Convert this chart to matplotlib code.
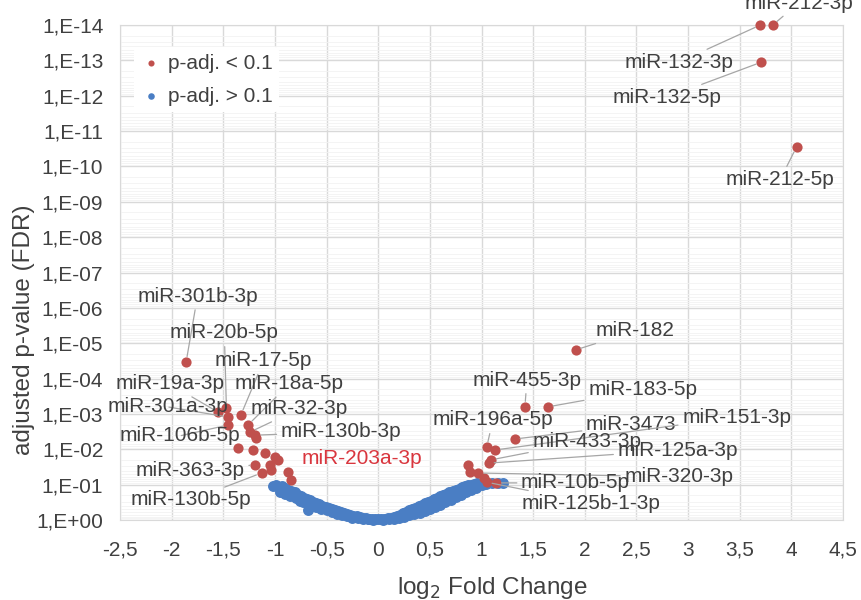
import numpy as np
import matplotlib
matplotlib.use("Agg")
from matplotlib import pyplot as plt
from matplotlib.ticker import FixedLocator, FuncFormatter, LogLocator

plt.rcParams['font.family'] = ['Liberation Sans', 'DejaVu Sans']

# significant miRNAs (p-adj < 0.1): log2 fold change and -log10(p-adj)
red_names = ['miR-132-3p', 'miR-212-3p', 'miR-132-5p', 'miR-212-5p', 'miR-182',
             'miR-455-3p', 'miR-183-5p', 'miR-3473', 'miR-196a-5p', 'miR-151-3p',
             'miR-433-3p', 'miR-125a-3p', '', '', 'miR-320-3p', '', 'miR-125b-1-3p',
             'miR-10b-5p',
             'miR-301b-3p', 'miR-19a-3p', 'miR-20b-5p', 'miR-301a-3p', 'miR-17-5p',
             'miR-106b-5p', 'miR-18a-5p', 'miR-32-3p', 'miR-130b-3p', '', '', '', '',
             '', '', 'miR-363-3p', '', 'miR-130b-5p', '', '', 'miR-203a-3p']
red_lfc = [3.70, 3.82, 3.71, 4.05, 1.91,
           1.42, 1.64, 1.32, 1.05, 1.13,
           1.09, 1.07, 0.87, 0.89, 0.97, 1.02, 1.05,
           1.14,
           -1.86, -1.55, -1.47, -1.45, -1.33,
           -1.45, -1.26, -1.24, -1.19, -1.18, -1.36, -1.21, -1.10,
           -1.00, -0.97, -1.19, -1.05, -1.13, -1.04, -0.87, -0.84]
red_nlp = [14.0, 14.0, 12.95, 10.55, 4.81,
           3.20, 3.20, 2.29, 2.06, 1.98,
           1.70, 1.61, 1.56, 1.36, 1.33, 1.19, 1.07,
           1.05,
           4.47, 3.05, 3.17, 2.91, 2.97,
           2.69, 2.69, 2.49, 2.40, 2.32, 2.04, 1.98, 1.89,
           1.78, 1.70, 1.56, 1.56, 1.33, 1.41, 1.36, 1.13]

# non-significant miRNAs (p-adj > 0.1)
blue_lfc = [-1.02, -0.99, -0.96, -0.93, -0.90, -0.87, -0.84, -0.81, -0.78, -0.75,
            -0.72, -0.69, -0.66, -0.63, -0.60, -0.57, -0.54, -0.51, -0.48, -0.45,
            -0.42, -0.39, -0.36, -0.33, -0.30, -0.27, -0.24, -0.21, -0.18, -0.15,
            -0.12, -0.09, -0.06, -0.03, 0.00,
            -0.95, -0.90, -0.85, -0.80, -0.76, -0.73, -0.68, -0.68, -0.64, -0.60,
            -0.55, -0.50, -0.45, -0.40, -0.35, -0.30, -0.25, -0.20, -0.15, -0.10,
            -0.05,
            0.03, 0.06, 0.09, 0.12, 0.15, 0.18, 0.21, 0.24, 0.27, 0.30,
            0.33, 0.36, 0.39, 0.42, 0.45, 0.48, 0.51, 0.54, 0.57, 0.60,
            0.63, 0.66, 0.69, 0.72, 0.75, 0.78, 0.81, 0.84, 0.87, 0.90,
            0.93, 0.96, 1.00, 1.04, 1.10, 1.16, 1.21,
            0.05, 0.10, 0.15, 0.20, 0.25, 0.30, 0.35, 0.40, 0.45, 0.50,
            0.55, 0.60, 0.65, 0.70, 0.75, 0.80, 0.85, 0.90, 0.95]
blue_nlp = [0.95, 1.00, 0.93, 0.97, 0.90, 0.86, 0.82, 0.78, 0.72, 0.68,
            0.63, 0.60, 0.56, 0.52, 0.48, 0.45, 0.41, 0.38, 0.35, 0.32,
            0.29, 0.26, 0.23, 0.20, 0.17, 0.15, 0.12, 0.10, 0.08, 0.06,
            0.05, 0.04, 0.03, 0.02, 0.02,
            0.80, 0.74, 0.68, 0.62, 0.55, 0.51, 0.28, 0.45, 0.40, 0.36,
            0.32, 0.27, 0.22, 0.18, 0.14, 0.10, 0.07, 0.05, 0.03, 0.02,
            0.01,
            0.03, 0.04, 0.05, 0.07, 0.09, 0.12, 0.15, 0.19, 0.23, 0.27,
            0.31, 0.35, 0.39, 0.43, 0.47, 0.51, 0.55, 0.59, 0.63, 0.67,
            0.71, 0.75, 0.79, 0.82, 0.86, 0.89, 0.92, 0.95, 0.98, 1.00,
            1.02, 1.04, 1.00, 1.03, 1.04, 1.05, 1.05,
            0.01, 0.02, 0.04, 0.06, 0.09, 0.13, 0.17, 0.21, 0.26, 0.31,
            0.37, 0.43, 0.50, 0.57, 0.64, 0.71, 0.78, 0.85, 0.90]

# where each label text sits (log2FC, -log10 p)
label_pos = {
    'miR-212-3p': (4.07, 14.62), 'miR-132-3p': (2.91, 12.95),
    'miR-132-5p': (2.80, 11.96), 'miR-212-5p': (3.89, 9.62),
    'miR-182': (2.49, 5.35), 'miR-455-3p': (1.44, 3.96),
    'miR-183-5p': (2.56, 3.68), 'miR-196a-5p': (1.11, 2.83),
    'miR-3473': (2.45, 2.69), 'miR-151-3p': (3.47, 2.91),
    'miR-433-3p': (2.02, 2.23), 'miR-125a-3p': (2.90, 1.98),
    'miR-320-3p': (2.91, 1.22), 'miR-10b-5p': (1.91, 1.05),
    'miR-125b-1-3p': (2.06, 0.48),
    'miR-301b-3p': (-1.75, 6.33), 'miR-20b-5p': (-1.49, 5.29),
    'miR-17-5p': (-1.11, 4.50), 'miR-19a-3p': (-2.02, 3.85),
    'miR-18a-5p': (-0.86, 3.85), 'miR-301a-3p': (-2.04, 3.20),
    'miR-32-3p': (-0.77, 3.14), 'miR-106b-5p': (-1.92, 2.38),
    'miR-130b-3p': (-0.36, 2.49), 'miR-203a-3p': (-0.16, 1.75),
    'miR-363-3p': (-1.82, 1.41), 'miR-130b-5p': (-1.81, 0.57),
}

red_p = 10.0 ** -np.array(red_nlp)
blue_p = 10.0 ** -np.array(blue_nlp)

RED = '#C0504D'
BLUE = '#4A7EC4'
TXT = '#404040'
FS = 15

fig = plt.figure(figsize=(8.61, 6.0), dpi=100)
ax = fig.add_axes([0.1394, 0.1333, 0.8397, 0.825])

ax.scatter(blue_lfc, blue_p, s=62, color=BLUE, lw=0, zorder=3, clip_on=False,
           label='p-adj. > 0.1')
ax.scatter(red_lfc, red_p, s=54, color=RED, lw=0, zorder=4, clip_on=False,
           label='p-adj. < 0.1')

for name, x, p in zip(red_names, red_lfc, red_p):
    if not name:
        continue
    tx, tnlp = label_pos[name]
    if name == 'miR-203a-3p':
        ax.text(tx, 10.0 ** -tnlp, name, color='#D9363E', fontsize=FS,
                ha='center', va='center', zorder=5)
        continue
    ax.annotate(name, xy=(x, p), xytext=(tx, 10.0 ** -tnlp),
                ha='center', va='center', fontsize=FS, color=TXT,
                annotation_clip=False, zorder=5,
                arrowprops=dict(arrowstyle='-', color='#A6A6A6', lw=0.9,
                                shrinkA=1, shrinkB=4))

ax.set_yscale('log')
ax.set_ylim(1, 1e-14)
ax.set_xlim(-2.5, 4.5)

ax.xaxis.set_major_locator(FixedLocator(np.arange(-2.5, 4.51, 0.5)))
ax.xaxis.set_major_formatter(FuncFormatter(lambda v, pos: f"{v:g}".replace('.', ',')))
ax.yaxis.set_major_locator(FixedLocator(10.0 ** -np.arange(0, 15)))
ax.yaxis.set_major_formatter(FuncFormatter(lambda v, pos: f"1,E{int(round(np.log10(v))):+03d}"))
ax.yaxis.set_minor_locator(LogLocator(base=10, subs=np.arange(2, 10), numticks=30))
ax.yaxis.set_minor_formatter(FuncFormatter(lambda v, pos: ''))

ax.tick_params(which='both', length=0, labelsize=FS, labelcolor=TXT)
ax.tick_params(axis='x', pad=15)
ax.tick_params(axis='y', pad=12)
ax.grid(which='major', color='#D9D9D9', lw=1, zorder=0)
ax.grid(which='minor', axis='y', color='#F3F3F3', lw=0.6, zorder=0)
ax.set_axisbelow(True)
for sp in ax.spines.values():
    sp.set_color('#D9D9D9')

ax.set_xlabel('log$_2$ Fold Change', fontsize=17.5, color=TXT)
ax.xaxis.set_label_coords(0.515, -0.112)
ax.set_ylabel('adjusted p-value (FDR)', fontsize=17.5, color=TXT)
ax.yaxis.set_label_coords(-0.117, 0.385)

h, l = ax.get_legend_handles_labels()
leg = ax.legend(h[::-1], l[::-1], loc='upper left', bbox_to_anchor=(0.02, 0.955),
                fontsize=FS, markerscale=0.6, handletextpad=0.3, handlelength=1.0,
                labelspacing=0.68, borderpad=0.3, borderaxespad=0, frameon=True,
                framealpha=1, edgecolor='none', facecolor='white')
for t in leg.get_texts():
    t.set_color(TXT)

plt.savefig('out.png', dpi=100)
